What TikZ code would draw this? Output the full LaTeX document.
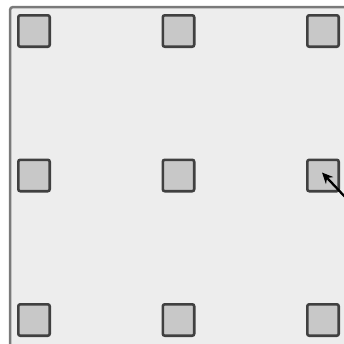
\documentclass[tikz,border=0pt]{standalone}
\usepackage{xcolor}
\usepackage{tikz}
\usetikzlibrary{arrows.meta,positioning}
\definecolor{panelgray}{HTML}{EDEDED}
\definecolor{framegray}{HTML}{7A7A7A}
\definecolor{cellgray}{HTML}{C8C8C8}
\definecolor{celledge}{HTML}{404040}
\tikzstyle{panel}=[
draw=framegray,
line width=2.5pt,
fill=panelgray,
rounded corners=3pt
]
\tikzstyle{cell}=[
draw=celledge,
line width=2.6pt,
fill=cellgray,
rounded corners=2pt,
minimum size=31.4pt,
inner sep=0pt
]
\tikzstyle{pointer}=[
line width=2.3pt,
black,
-{Stealth[length=11pt,width=10pt]}
]
\begin{document}
\begin{tikzpicture}[x=1pt,y=-1pt,node distance=110.5pt]
\useasboundingbox (0,0) rectangle (344,343);
\clip (0,0) rectangle (344,343);

\draw [panel] (10,7) rectangle (360,360);

\node (c11) [cell] at (34,31) {};
\node (c12) [cell, right=of c11] {};
\node (c13) [cell, right=of c12] {};
\node (c21) [cell, below=of c11] {};
\node (c22) [cell, right=of c21] {};
\node (c23) [cell, right=of c22] {};
\node (c31) [cell, below=of c21] {};
\node (c32) [cell, right=of c31] {};
\node (c33) [cell, right=of c32] {};

\coordinate (tail) at (347,199);
\draw [pointer] (tail) -- ([shift={(-1,-3)}]c23.center);

\end{tikzpicture}
\end{document}
